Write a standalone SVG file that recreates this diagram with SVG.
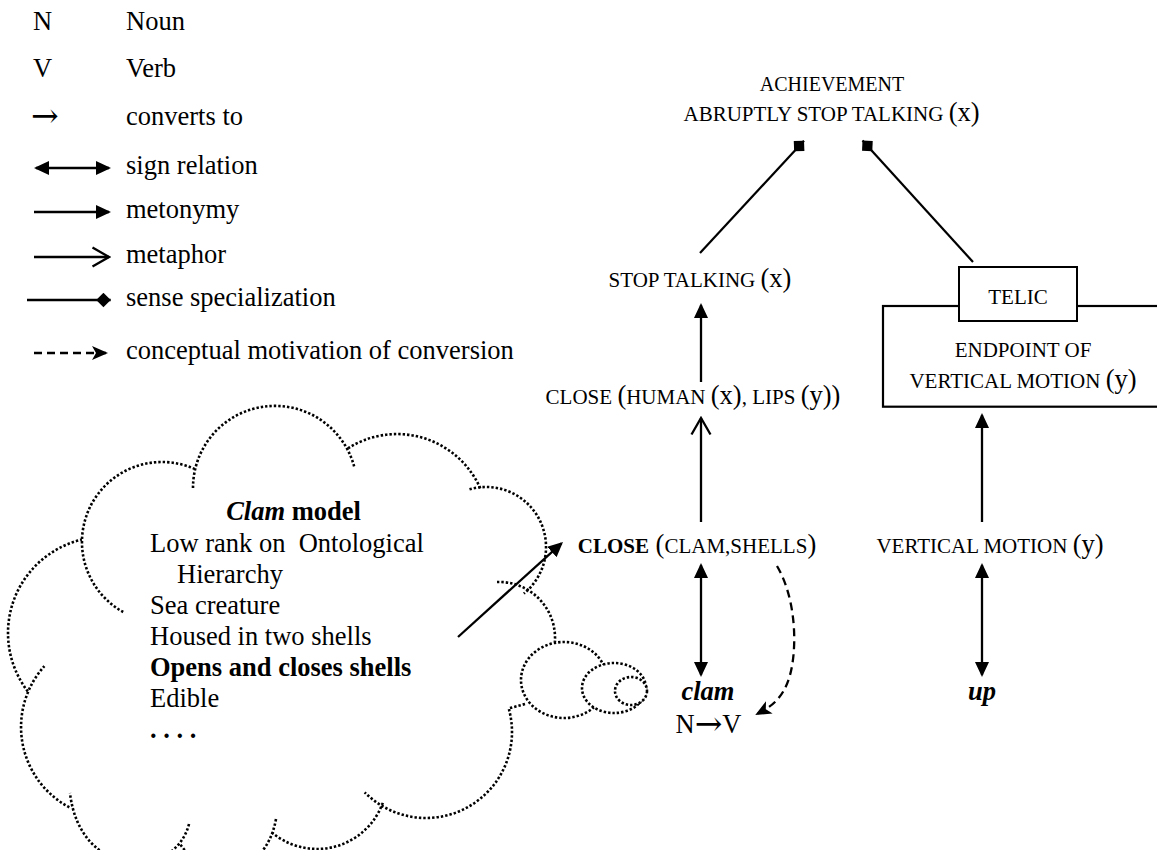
<svg xmlns="http://www.w3.org/2000/svg" width="1157" height="850" viewBox="0 0 1157 850">
<style>
text{font-family:"Liberation Serif","Times New Roman","DejaVu Serif",serif;font-size:26.5px;fill:#000}
.sc{font-size:21px}
.b{font-weight:bold}
.i{font-style:italic}
.ar{font-family:"DejaVu Serif","DejaVu Sans",serif;font-size:33px}
.ln{stroke:#000;stroke-width:2.3;fill:none}
.thin{stroke:#000;stroke-width:2.2;fill:none}
.dash{stroke:#000;stroke-width:2.3;fill:none;stroke-dasharray:8 5}
.dot{stroke:#000;stroke-width:2.6;fill:none;stroke-dasharray:2.4 2}
.dotw{stroke:#000;stroke-width:2.6;fill:#fff;stroke-dasharray:2.4 2}
.box{stroke:#000;stroke-width:2;fill:#fff}
</style>
<defs>
<marker id="fa" markerUnits="userSpaceOnUse" viewBox="0 0 15 14" markerWidth="15" markerHeight="14" refX="13" refY="7" orient="auto-start-reverse"><path d="M0,0 L15,7 L0,14 z" fill="#000"/></marker>
<marker id="oa" markerUnits="userSpaceOnUse" viewBox="0 0 20 22" markerWidth="20" markerHeight="22" refX="18" refY="11" orient="auto"><path d="M1.5,1.5 L18,11 L1.5,20.5" fill="none" stroke="#000" stroke-width="2.3"/></marker>
<marker id="dm" markerUnits="userSpaceOnUse" viewBox="0 0 15 15" markerWidth="15" markerHeight="15" refX="14.5" refY="7.25" orient="auto"><path d="M0,7.25 L7.25,0 L14.5,7.25 L7.25,14.5 z" fill="#000"/></marker>
<marker id="sa" markerUnits="userSpaceOnUse" viewBox="0 0 16 14" markerWidth="16" markerHeight="14" refX="14" refY="7" orient="auto"><path d="M0,0 L16,7 L0,14 L4,7 z" fill="#000"/></marker>
</defs>

<g id="legend">
<text x="33" y="30">N</text><text x="126" y="30">Noun</text>
<text x="33" y="77">V</text><text x="126" y="77">Verb</text>
<text x="31" y="127" class="ar">→</text><text x="126" y="125">converts to</text>
<line class="ln" x1="36" y1="168" x2="109" y2="168" marker-start="url(#fa)" marker-end="url(#fa)"/>
<text x="126" y="174">sign relation</text>
<line class="ln" x1="34" y1="212" x2="109" y2="212" marker-end="url(#fa)"/>
<text x="126" y="218">metonymy</text>
<line class="ln" x1="34" y1="257" x2="109" y2="257" marker-end="url(#oa)"/>
<text x="126" y="263">metaphor</text>
<line class="ln" x1="27" y1="300" x2="110.7" y2="300" marker-end="url(#dm)"/>
<text x="126" y="306">sense specialization</text>
<line class="dash" x1="34" y1="353" x2="106" y2="353" marker-end="url(#sa)"/>
<text x="126" y="359">conceptual motivation of conversion</text>
</g>

<g id="cloud">
<path class="dot" d="M193,488 A82,82 0 0 1 354.6,468.2"/>
<path class="dot" d="M348.1,448.3 A91,91 0 0 1 480.5,488.9"/>
<path class="dot" d="M469.5,489.3 A60,60 0 0 1 523.8,593.6"/>
<path class="dot" d="M497,582 A56,56 0 0 1 554.9,641.9"/>
<path class="dot" d="M525,704 L508.7,708.4 A86,86 0 0 1 364.7,792.3"/>
<path class="dot" d="M382.8,802.9 A70,70 0 0 1 271.1,831.8"/>
<path class="dot" d="M276,819 C265,880 205,880 180,844"/>
<path class="dot" d="M189,824 C175,880 80,880 70,793"/>
<path class="dot" d="M69.3,807.3 A91,91 0 0 1 44.4,666.1"/>
<path class="dot" d="M27.8,691.4 A96,96 0 0 1 81.9,539.6"/>
<path class="dot" d="M123.2,612 A80,80 0 0 1 90.1,506.9 A80,80 0 0 1 194.5,468.9"/>
<ellipse class="dotw" cx="564" cy="680" rx="43" ry="38"/>
<ellipse class="dotw" cx="614" cy="688" rx="32" ry="25"/>
<ellipse class="dotw" cx="631" cy="691" rx="16" ry="14"/>
<text x="293.5" y="520" text-anchor="middle"><tspan class="i b">Clam</tspan><tspan class="b"> model</tspan></text>
<text x="150" y="552" style="white-space:pre">Low rank on  Ontological</text>
<text x="177" y="583">Hierarchy</text>
<text x="150" y="614">Sea creature</text>
<text x="150" y="645">Housed in two shells</text>
<text x="150" y="676" class="b">Opens and closes shells</text>
<text x="150" y="707">Edible</text>
<text x="150" y="738" class="b">. . . .</text>
</g>

<g id="achievement">
<text x="832" y="91" text-anchor="middle" style="font-size:20px">ACHIEVEMENT</text>
<text x="831.5" y="121" text-anchor="middle"><tspan class="sc">ABRUPTLY STOP TALKING </tspan>(x)</text>
</g>
<g id="stop-talking">
<text x="700" y="287" text-anchor="middle"><tspan class="sc">STOP TALKING </tspan>(x)</text>
</g>
<g id="close-human">
<text x="693" y="404" text-anchor="middle"><tspan class="sc">CLOSE </tspan>(<tspan class="sc">HUMAN </tspan>(x)<tspan class="sc">, LIPS </tspan>(y))</text>
</g>
<g id="close-clam">
<text x="697" y="553" text-anchor="middle"><tspan class="sc b">CLOSE</tspan> (<tspan class="sc">CLAM,SHELLS</tspan>)</text>
</g>
<g id="clam">
<text x="708" y="700" text-anchor="middle" class="b i">clam</text>
<text x="708.5" y="733" text-anchor="middle">N<tspan class="ar" dy="2">→</tspan><tspan dy="-2">V</tspan></text>
</g>
<g id="telic">
<rect class="thin" x="883" y="306" width="300" height="100.7"/>
<rect class="box" x="959" y="267" width="118" height="54"/>
<text x="1018" y="303.5" text-anchor="middle" class="sc">TELIC</text>
<text x="1023" y="357" text-anchor="middle" class="sc">ENDPOINT OF</text>
<text x="1023" y="388" text-anchor="middle"><tspan class="sc">VERTICAL MOTION </tspan>(y)</text>
</g>
<g id="vertical-motion">
<text x="990" y="553" text-anchor="middle"><tspan class="sc">VERTICAL MOTION </tspan>(y)</text>
</g>
<g id="up">
<text x="982" y="700" text-anchor="middle" class="b i">up</text>
</g>

<g id="connectors">
<line class="thin" x1="700" y1="253" x2="804" y2="140.7" marker-end="url(#dm)"/>
<line class="thin" x1="973" y1="262" x2="862.5" y2="140.6" marker-end="url(#dm)"/>
<line class="ln" x1="701" y1="382" x2="701" y2="305" marker-end="url(#fa)"/>
<line class="ln" x1="701" y1="522" x2="701" y2="418" marker-end="url(#oa)"/>
<line class="ln" x1="701" y1="565" x2="701" y2="675" marker-start="url(#fa)" marker-end="url(#fa)"/>
<path class="dash" d="M777,566 C797,600 797,650 790,675 S770,707 757,714" marker-end="url(#sa)"/>
<line class="ln" x1="458" y1="637" x2="561.5" y2="543.3" marker-end="url(#fa)"/>
<line class="ln" x1="982" y1="522" x2="982" y2="415" marker-end="url(#fa)"/>
<line class="ln" x1="982" y1="565" x2="982" y2="675" marker-start="url(#fa)" marker-end="url(#fa)"/>
</g>
</svg>
